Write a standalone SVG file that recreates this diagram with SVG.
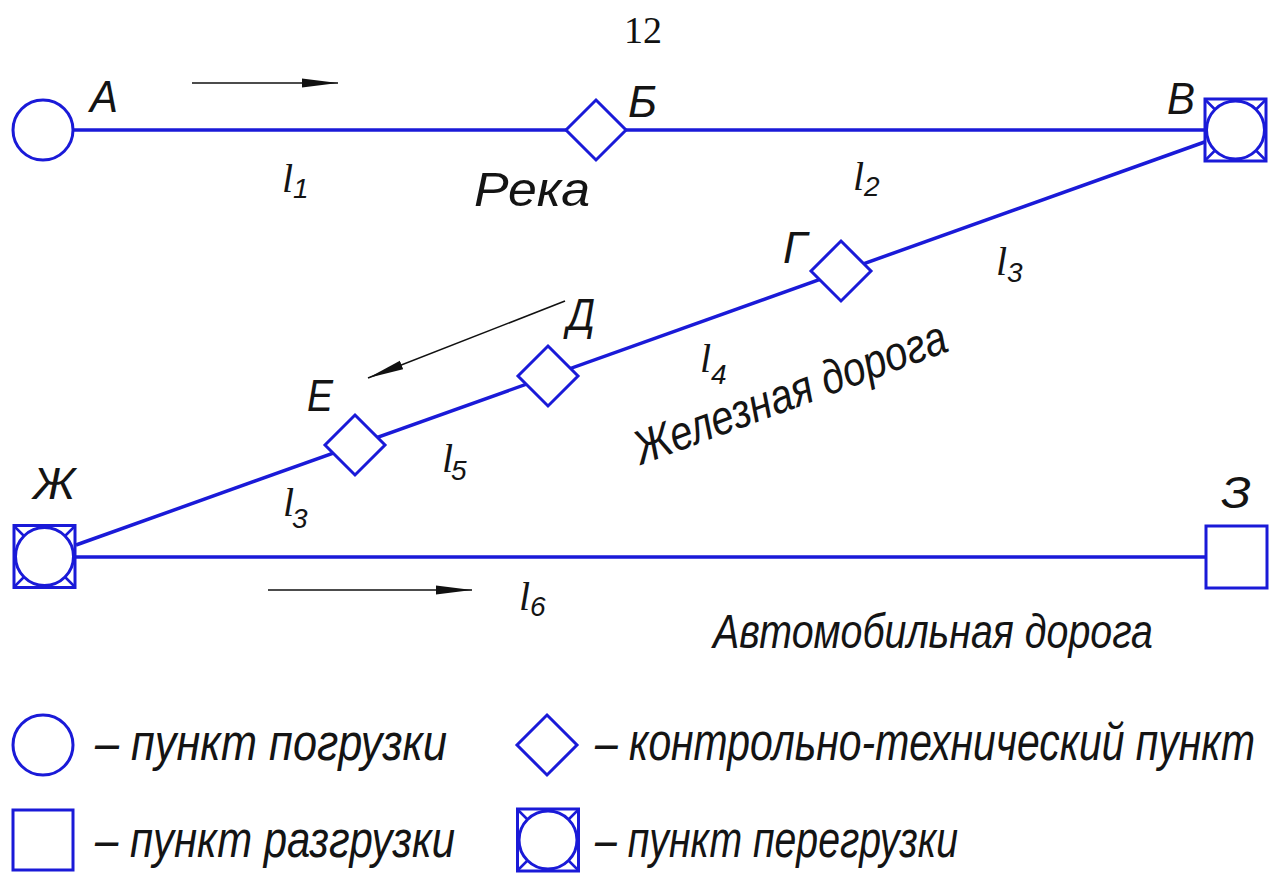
<svg xmlns="http://www.w3.org/2000/svg" width="1271" height="874" viewBox="0 0 1271 874">
<defs>
<style>
.ln{stroke:#1a1ad8;stroke-width:3.5;fill:none;stroke-linecap:butt}
.sh{stroke:#1a1ad8;stroke-width:3;fill:#fff}
.t{font-family:"Liberation Sans",Arial,sans-serif;font-style:italic;fill:#141414}
.ls{font-family:"Liberation Serif","Times New Roman",serif;font-style:italic;fill:#141414}
.lab{font-size:44px}
.l{font-size:40px}
.sub{font-size:28px}
.big{font-size:48px}
.leg{font-size:52px}
.ar{stroke:#111;stroke-width:1.6;fill:none}
</style>
<marker id="ah" viewBox="0 0 36 10" refX="36" refY="5" markerWidth="36" markerHeight="10" markerUnits="userSpaceOnUse" orient="auto">
<path d="M0,0.5 L36,5 L0,9.5 Z" fill="#111"/>
</marker>
<g id="transfer">
<rect x="-30.5" y="-31" width="61" height="62" class="sh"/>
<circle r="29" class="sh"/>
<path d="M-30,-30 L-21,-21 M30,-30 L21,-21 M-30,30 L-21,21 M30,30 L21,21" stroke="#1a1ad8" stroke-width="2.5"/>
</g>
<polygon id="dia" points="0,-30 30,0 0,30 -30,0" class="sh"/>
</defs>
<rect width="1271" height="874" fill="#fff"/>

<text x="643" y="43" font-family="Liberation Serif,Times New Roman,serif" font-size="38" text-anchor="middle" fill="#111">12</text>

<g id="connectors">
<line x1="73" y1="130" x2="566" y2="130" class="ln"/>
<line x1="626" y1="130" x2="1206" y2="130" class="ln"/>
<line x1="1206" y1="141.5" x2="76" y2="545" class="ln"/>
<line x1="76" y1="557" x2="1206" y2="557" class="ln"/>
</g>

<g id="arrows">
<line x1="192" y1="83" x2="338" y2="83" class="ar" marker-end="url(#ah)"/>
<line x1="565" y1="301" x2="368" y2="378" class="ar" marker-end="url(#ah)"/>
<line x1="268" y1="590" x2="472" y2="590" class="ar" marker-end="url(#ah)"/>
</g>

<g id="node-A">
<circle cx="43" cy="130" r="30" class="sh"/>
<text x="90" y="112" class="t lab" textLength="28" lengthAdjust="spacingAndGlyphs">А</text>
</g>
<g id="node-B">
<use href="#dia" x="596" y="130"/>
<text x="628" y="117" class="t lab" textLength="29" lengthAdjust="spacingAndGlyphs">Б</text>
</g>
<g id="node-V">
<use href="#transfer" x="1235.5" y="130"/>
<text x="1167" y="114" class="t lab" textLength="28" lengthAdjust="spacingAndGlyphs">В</text>
</g>
<g id="node-G">
<use href="#dia" x="841" y="271"/>
<text x="783" y="263" class="t lab" textLength="24" lengthAdjust="spacingAndGlyphs">Г</text>
</g>
<g id="node-D">
<use href="#dia" x="548" y="376"/>
<text x="567" y="330" class="t lab" textLength="28" lengthAdjust="spacingAndGlyphs">Д</text>
</g>
<g id="node-E">
<use href="#dia" x="355" y="445"/>
<text x="307" y="411" class="t lab" textLength="26" lengthAdjust="spacingAndGlyphs">Е</text>
</g>
<g id="node-Zh">
<use href="#transfer" x="44.5" y="556.5"/>
<text x="33" y="499" class="t lab" textLength="42" lengthAdjust="spacingAndGlyphs">Ж</text>
</g>
<g id="node-Z">
<rect x="1206" y="526" width="61" height="62" class="sh"/>
<text x="1221" y="508" class="t lab" textLength="30" lengthAdjust="spacingAndGlyphs">З</text>
</g>

<g id="labels">
<text x="282" y="192" class="ls l">l</text><text x="293" y="198" class="t sub">1</text>
<text x="853" y="190" class="ls l">l</text><text x="864" y="196" class="t sub">2</text>
<text x="996" y="275" class="ls l">l</text><text x="1007" y="282" class="t sub">3</text>
<text x="700" y="372" class="ls l">l</text><text x="711" y="384" class="t sub">4</text>
<text x="442" y="472" class="ls l">l</text><text x="451" y="480" class="t sub">5</text>
<text x="283" y="516" class="ls l">l</text><text x="292" y="528" class="t sub">3</text>
<text x="519" y="610" class="ls l">l</text><text x="530" y="616" class="t sub">6</text>
<text x="474" y="206" class="t big" textLength="116" lengthAdjust="spacingAndGlyphs">Река</text>
<text x="0" y="0" class="t big" textLength="330" lengthAdjust="spacingAndGlyphs" transform="translate(641,465) rotate(-20.3)">Железная дорога</text>
<text x="713" y="648" class="t big" textLength="440" lengthAdjust="spacingAndGlyphs">Автомобильная дорога</text>
</g>

<g id="legend">
<g id="leg-load">
<circle cx="43" cy="745" r="30" class="sh"/>
<text x="95" y="760" class="t leg" textLength="352" lengthAdjust="spacingAndGlyphs">– пункт погрузки</text>
</g>
<g id="leg-control">
<use href="#dia" x="547" y="745"/>
<text x="0" y="0" class="t" font-size="40" textLength="660" lengthAdjust="spacingAndGlyphs" transform="translate(595,760) scale(1,1.3)">– контрольно-технический пункт</text>
</g>
<g id="leg-unload">
<rect x="13" y="810" width="60" height="60" class="sh"/>
<text x="95" y="857" class="t leg" textLength="360" lengthAdjust="spacingAndGlyphs">– пункт разгрузки</text>
</g>
<g id="leg-transfer">
<use href="#transfer" x="548" y="840"/>
<text x="595" y="857" class="t leg" textLength="363" lengthAdjust="spacingAndGlyphs">– пункт перегрузки</text>
</g>
</g>
</svg>
